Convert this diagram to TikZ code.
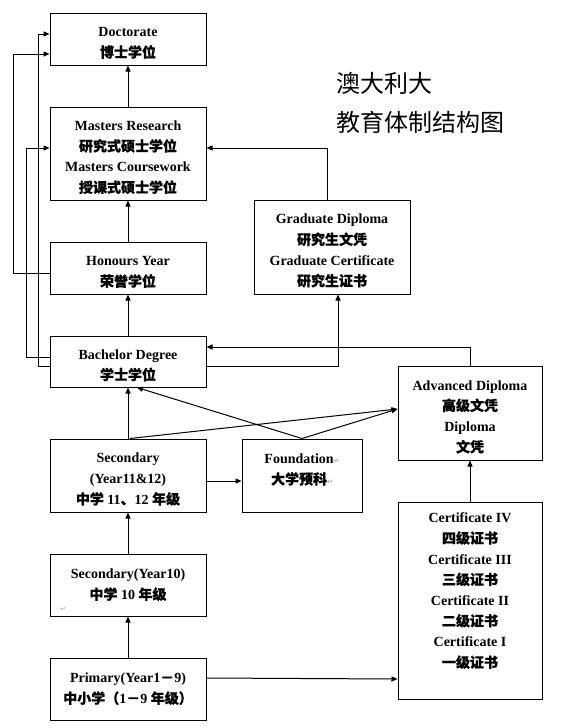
\documentclass[tikz,border=0pt]{standalone}
\usepackage{fontspec}
\setmainfont{Liberation Serif}
\newfontfamily\cjk[FakeBold=0.5]{Noto Sans CJK SC}
\newfontfamily\cjktitle{Noto Sans CJK SC}
\newfontfamily\symfont{DejaVu Sans}
\usetikzlibrary{arrows.meta,calc}
\newcommand\zh[1]{{\cjk\fontsize{14}{20.7}\selectfont #1}}
\newcommand\retmark{{\symfont\fontsize{7}{7}\selectfont\color{black!35}↵}}
% extra room above the first line of a box
\newcommand\tp{\rule{0pt}{17.5pt}}

\tikzset{
  box/.style={draw, line width=1pt, align=center, inner sep=0pt,
    font=\bfseries\fontsize{14}{20.7}\selectfont},
  link/.style={line width=1pt},
  arr/.style={link, -{Triangle[length=6pt,width=5pt]}},
}

\begin{document}
\begin{tikzpicture}[x=1pt,y=-1pt]
\useasboundingbox (0,0) rectangle (572,728);

% title
\node[anchor=west, font=\cjktitle\fontsize{24}{24}\selectfont] (t1) at (333,83) {澳大利大};
\node[anchor=west, font=\cjktitle\fontsize{24}{24}\selectfont] (t2) at (333,122) {教育体制结构图};

% university and higher-education boxes
\node[box, minimum width=156, minimum height=52] (doc) at (128,39)
  {\tp Doctorate\\ \zh{博士学位}};
\node[box, minimum width=156, minimum height=93] (mas) at (128,153.5)
  {\tp Masters Research\\ \zh{研究式硕士学位}\\ Masters Coursework\\ \zh{授课式硕士学位}};
\node[box, minimum width=156, minimum height=52] (hon) at (128,268)
  {\tp Honours Year\\ \zh{荣誉学位}};
\node[box, minimum width=156, minimum height=51] (bac) at (128,361.5)
  {\tp Bachelor Degree\\ \zh{学士学位}};
\node[box, minimum width=156, minimum height=94] (grad) at (332,247)
  {\tp Graduate Diploma\\ \zh{研究生文凭}\\ Graduate Certificate\\ \zh{研究生证书}};
\node[box, minimum width=144, minimum height=94] (adv) at (470,413)
  {\tp Advanced Diploma\\ \zh{高级文凭}\\ Diploma\\ \zh{文凭}};

% school, foundation and vocational boxes
\node[box, minimum width=156, minimum height=73] (sec) at (128,475.5)
  {\tp Secondary\\ (Year11\&12)\\ \zh{中学} 11\zh{、}12 \zh{年级}};
\node[box, minimum width=120, minimum height=73] (fnd) at (302,475.5)
  {\tp Foundation\retmark\\ \zh{大学预科}\retmark\\ \mbox{}};
\node[box, minimum width=156, minimum height=62] (s10) at (128,585)
  {Secondary(Year10)\\ \zh{中学} 10 \zh{年级}};
\node[anchor=center] (s10mark) at (63,609) {\retmark};
\node[box, minimum width=156, minimum height=62] (pri) at (128,689)
  {Primary(Year1\zh{－}9)\\ \zh{中小学（}1\zh{－}9 \zh{年级）}};
\node[box, minimum width=144, minimum height=197] (cert) at (470,600.5)
  {Certificate IV\\ \zh{四级证书}\\ Certificate III\\ \zh{三级证书}\\
   Certificate II\\ \zh{二级证书}\\ Certificate I\\ \zh{一级证书}\\ \mbox{}};

% main vertical pathway
\draw[arr] (mas.north) -- (doc.south);
\draw[arr] (hon.north) -- (mas.south);
\draw[arr] (bac.north) -- (hon.south);
\draw[arr] (sec.north) -- (bac.south);
\draw[arr] (s10.north) -- (sec.south);
\draw[arr] (pri.north) -- (s10.south);

% left-hand bypass lines
\draw[arr] ($(hon.west)+(0,5)$) -- ++(-36,0) |- ($(doc.west)+(0,15)$);
\draw[arr] ($(bac.west)+(0,-4.5)$) -- ++(-23,0) |- ($(mas.west)+(0,-5.5)$);
\draw[arr] ($(bac.west)+(0,4.5)$) -- ++(-11,0) |- ($(doc.west)+(0,-5)$);

% graduate diploma routes
\draw[arr] ($(grad.north)+(-5,0)$) |- ($(mas.east)+(0,-5.5)$);
\draw[arr] ($(bac.east)+(0,4.5)$) -| ($(grad.south)+(6,0)$);

% diploma and foundation routes
\draw[arr] (adv.north) |- ($(bac.east)+(0,-14.5)$);
\draw[arr] ($(sec.north)+(2,0)$) -- ($(adv.west)+(0,-4)$);
\draw[arr] (fnd.north) -- ($(bac.south)+(9,0)$);
\draw[arr] (fnd.north) -- ($(adv.west)+(0,-4)$);
\draw[arr] ($(sec.east)+(0,5.5)$) -- ($(fnd.west)+(0,5.5)$);

% vocational routes
\draw[arr] ($(pri.east)+(0,-11)$) -- ($(cert.west)+(0,78.5)$);
\draw[arr] (cert.north) -- (adv.south);
\end{tikzpicture}
\end{document}
